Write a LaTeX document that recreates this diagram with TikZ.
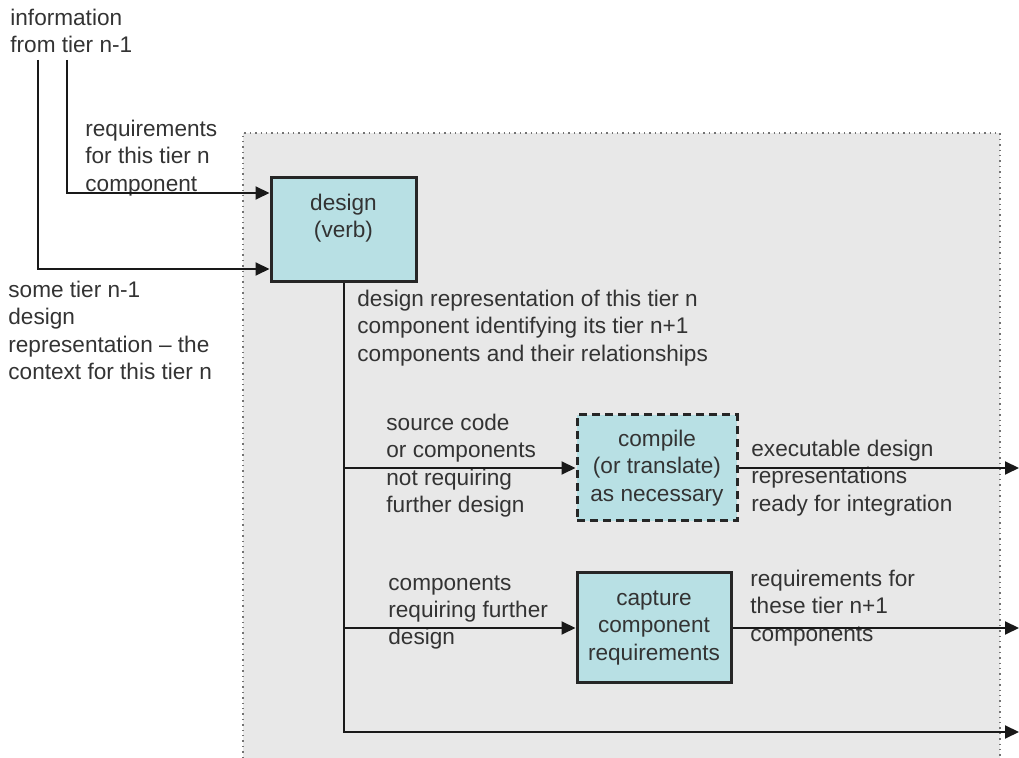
\documentclass[tikz,border=0pt]{standalone}
\usepackage{fontspec}
\setmainfont{Liberation Sans}
\usepackage{xcolor}
\usepackage{tikz}
\usetikzlibrary{arrows.meta, positioning, calc}
\definecolor{boxcyan}{RGB}{184,224,228}
\definecolor{tiergray}{RGB}{232,232,232}
\tikzset{
  block/.style={rectangle, draw=black!85, fill=boxcyan, line width=1.5pt,
                align=center, text=black!80, inner sep=2pt},
  arrow/.style={-{Triangle[length=7pt, width=6.5pt]}, draw=black!90, line width=1pt},
  label/.style={align=left, anchor=north west, inner sep=0pt, text=black!80},
}

\begin{document}
\begin{tikzpicture}[x=0.5pt, y=-0.5pt,
  every node/.style={font=\fontsize{11.3}{13.6}\selectfont},
  tier/.style={fill=tiergray},
  tierline/.style={draw=black!55, dotted, line width=0.7pt},
]
  \useasboundingbox (0,0) rectangle (1019,758);

  % tier n area
  \fill[tier] (243,133) rectangle (1000,758);
  \draw[tierline] (243,758) -- (243,133) -- (1000,133) -- (1000,758);

  % boxes
  \node[block, minimum width=72.5pt, minimum height=52pt] (design) at (343.5,230) {};
  \node[align=center, text=black!80] (designtxt) at ([yshift=6pt]design.center)
    {design\\(verb)};
  \node[block, dash pattern=on 4pt off 2.5pt, minimum width=80pt, minimum height=53pt]
    (compile) at (657,468) {compile\\(or translate)\\as necessary};
  \node[block, minimum width=77pt, minimum height=55pt] (capture) at (654,628)
    {capture\\component\\requirements};

  % texts
  \node[label] (info) at (10,9) {information\\from tier n-1};
  \node[label] (req) at (85,120) {requirements\\for this tier n\\component};
  \node[label] (ctx) at (8,281) {some tier n-1\\design\\representation -- the\\context for this tier n};
  \node[label] (drep) at (357,290) {design representation of this tier n\\component identifying its tier n+1\\components and their relationships};
  \node[label] (src) at (386,414) {source code\\or components\\not requiring\\further design};
  \node[label] (further) at (388,575) {components\\requiring further\\design};
  \node[label] (exe) at (751,440) {executable design\\representations\\ready for integration};
  \node[label] (reqn) at (750,570) {requirements for\\these tier n+1\\components};

  % inputs from tier n-1
  \coordinate (inReq) at (67,60);
  \coordinate (inCtx) at (38,60);
  \draw[arrow] (inReq) |- ([yshift=18.5pt]design.west);
  \draw[arrow] (inCtx) |- ([yshift=-19.5pt]design.west);

  % outputs
  \coordinate (outExe) at (1019,468);
  \coordinate (outReq) at (1019,628);
  \coordinate (outRest) at (1019,732);
  \draw[arrow] (design.south) |- (outRest);
  \draw[arrow] (design.south |- compile.west) -- (compile.west);
  \draw[arrow] (design.south |- capture.west) -- (capture.west);
  \draw[arrow] (compile.east) -- (outExe);
  \draw[arrow] (capture.east) -- (outReq);
\end{tikzpicture}
\end{document}
